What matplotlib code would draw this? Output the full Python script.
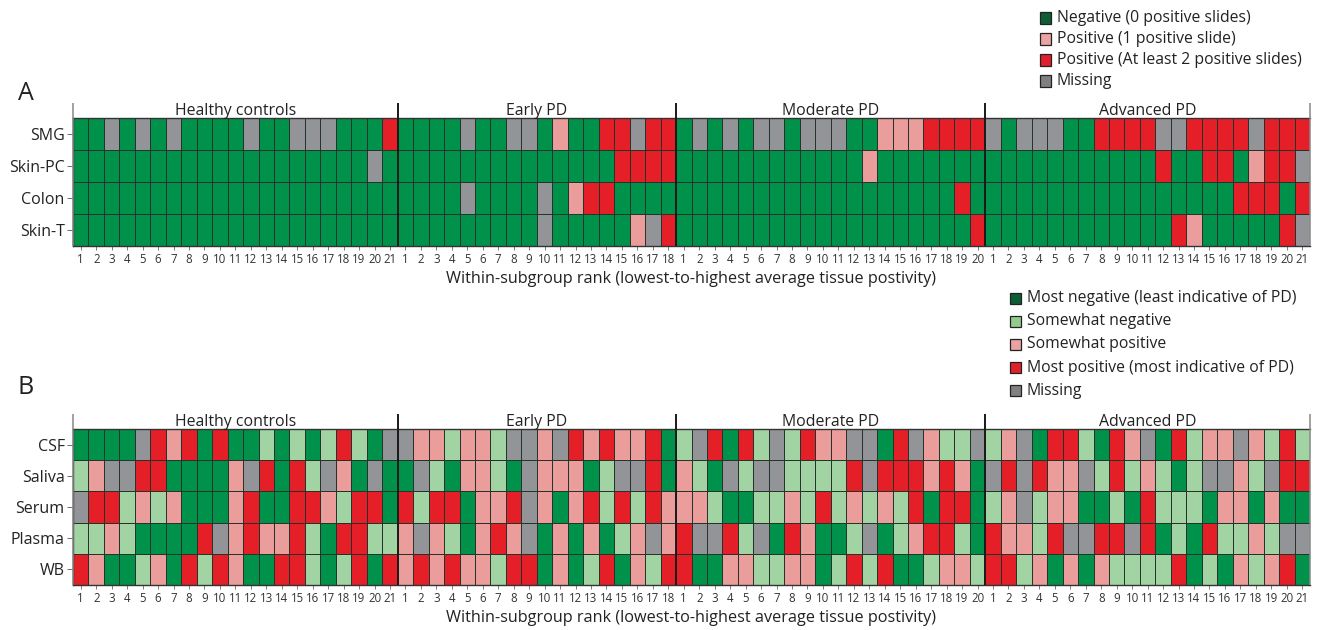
import numpy as np
import matplotlib
matplotlib.use("Agg")
import matplotlib.pyplot as plt
from matplotlib.colors import ListedColormap, BoundaryNorm
from matplotlib.patches import Rectangle

plt.rcParams["font.family"] = ["Open Sans", "DejaVu Sans"]

# ---- data ----
GROUPS = ["Healthy controls", "Early PD", "Moderate PD", "Advanced PD"]
GROUP_SIZES = [21, 18, 20, 21]

# Panel A: N = negative, P = 1 positive slide, R = >=2 positive slides, M = missing
TISSUE_ROWS = ["SMG", "Skin-PC", "Colon", "Skin-T"]
TISSUE_DATA = {
    "SMG": ["NNMNMNMNNNNMNNMMMNNNR", "NNNNMNNMMNPNNRRMRR",
            "NMNMNMMNMMMNNPPPRRRR", "MNMMMNNRRRRMMRRRRMRRR"],
    "Skin-PC": ["NNNNNNNNNNNNNNNNNNNMN", "NNNNNNNNNNNNNNRRRR",
                "NNNNNNNNNNNNPNNNNNNN", "NNNNNNNNNNNRNNRRNPRRM"],
    "Colon": ["NNNNNNNNNNNNNNNNNNNNN", "NNNNMNNNNMNPRRNNNN",
              "NNNNNNNNNNNNNNNNNNRN", "NNNNNNNNNNNNNNNNRRRNR"],
    "Skin-T": ["NNNNNNNNNNNNNNNNNNNNN", "NNNNNNNNNMNNNNNPMR",
               "NNNNNNNNNNNNNNNNNNNR", "NNNNNNNNNNNNRPNNNNNRM"],
}
TISSUE_CODES = {"N": 0, "P": 1, "R": 2, "M": 3}
TISSUE_LABELS = ["Negative (0 positive slides)", "Positive (1 positive slide)",
                 "Positive (At least 2 positive slides)", "Missing"]

# Panel B: D = most negative, L = somewhat negative, P = somewhat positive,
# R = most positive, M = missing
FLUID_ROWS = ["CSF", "Saliva", "Serum", "Plasma", "WB"]
FLUID_DATA = {
    "CSF": ["DDDDMRPRDRDDLDLDLRLDM", "MPPLPPLMMPMRPRPPRD",
            "LMRDRLMLRPPMMDRMPLLM", "LPMDRRLDRPMDRLPPMPLRL"],
    "Saliva": ["LPMMRRDDDDPMRDRLMPDMD", "DMLDPPLDMPPPDLMMRD",
               "PLDMLMMLLLLRMRRRPRPD", "MRMRPPMLRLPLDLMMPLMRR"],
    "Serum": ["MRRLPLPDDDPRDDRRPLRRD", "RLRRDPPRMPDPRLRLRP",
              "PPLDDLLPLRLPLPLRDRRD", "LPMLPPDDLDRLLLDPPDPDD"],
    "Plasma": ["LLPLDDDDRMPRPPRLDRRLL", "PMPLDPRPMDPDPDLPMP",
               "RMMRLMDRPDDLMDLPRRLD", "RPPLRMMRRMRDLDRLLPLMM"],
    "WB": ["RPDDLPDRLRPDDRRLDLRDR", "PRPRPPLRRDPDLRDPLR",
           "RDDPPLLPPDLRLRDDLPPL", "RRLPDPDPLLLLRDLDPLPRD"],
}
FLUID_CODES = {"D": 0, "L": 1, "P": 2, "R": 3, "M": 4}
FLUID_LABELS = ["Most negative (least indicative of PD)", "Somewhat negative",
                "Somewhat positive", "Most positive (most indicative of PD)", "Missing"]

# ---- colours ----
GREEN = "#00924a"
LIGHT_GREEN = "#a2d3a2"
PINK = "#eb9d9c"
RED = "#e41f27"
GREY = "#929497"
TISSUE_COLORS = [GREEN, PINK, RED, GREY]
FLUID_COLORS = [GREEN, LIGHT_GREEN, PINK, RED, GREY]
TISSUE_LEG = ["#0d5e34", "#eaa2a2", "#e0202a", "#808080"]
FLUID_LEG = ["#0d5e34", "#93cb8f", "#eaa2a2", "#e0202a", "#808080"]

W, H = 1322, 630


def build_matrix(rows, data, codes):
    mat = []
    for r in rows:
        line = "".join(data[r])
        mat.append([codes[c] for c in line])
    return np.array(mat)


def px_axes(fig, left, top, right, bottom):
    return fig.add_axes([left / W, 1 - bottom / H, (right - left) / W, (bottom - top) / H])


def draw_panel(fig, box, rows, mat, colors, header_rise):
    ax = px_axes(fig, *box)
    n_rows, n_cols = mat.shape
    cmap = ListedColormap(colors)
    norm = BoundaryNorm(np.arange(len(colors) + 1) - 0.5, len(colors))
    ax.pcolormesh(np.arange(n_cols + 1), np.arange(n_rows + 1), mat,
                  cmap=cmap, norm=norm, edgecolors="#26332b", linewidth=0.6)
    ax.set_xlim(0, n_cols)
    ax.set_ylim(n_rows, 0)

    ax.set_yticks(np.arange(n_rows) + 0.5)
    ax.set_yticklabels(rows, fontsize=11.5, color="#222222")
    labels = []
    for g in GROUP_SIZES:
        labels += [str(i + 1) for i in range(g)]
    ax.set_xticks(np.arange(n_cols) + 0.5)
    ax.set_xticklabels(labels, fontsize=8.3, color="#333333")
    ax.tick_params(axis="x", length=3, width=0.6, color="#666666", pad=2)
    ax.tick_params(axis="y", length=4, width=0.6, color="#555555", pad=2)
    for s in ax.spines.values():
        s.set_color("#333333")
        s.set_linewidth(1.0)
    ax.spines["right"].set_visible(False)

    # group brackets & headers
    bounds = np.concatenate([[0], np.cumsum(GROUP_SIZES)])
    for i, b in enumerate(bounds):
        inner = 0 < i < len(bounds) - 1
        col = "#1a1a1a" if inner else "#888888"
        ax.plot([b, b], [n_rows, -header_rise], color=col, lw=1.4 if inner else 1.1,
                clip_on=False, solid_capstyle="butt", zorder=5)
    for i, name in enumerate(GROUPS):
        xc = (bounds[i] + bounds[i + 1]) / 2
        ax.text(xc, -header_rise * 0.45, name, ha="center", va="center",
                fontsize=11.4, color="#222222", clip_on=False)
    ax.set_xlabel("Within-subgroup rank (lowest-to-highest average tissue postivity)",
                  fontsize=11.7, color="#222222", labelpad=4)
    return ax


def draw_legend(fig, x, y0, step, labels, colors):
    for i, (lab, c) in enumerate(zip(labels, colors)):
        y = y0 + i * step
        fig.patches.append(Rectangle((x / W, 1 - (y + 5.5) / H), 11 / W, 11 / H,
                                     transform=fig.transFigure, facecolor=c,
                                     edgecolor="#222222", linewidth=0.9))
        fig.text((x + 17) / W, 1 - y / H, lab, fontsize=11.3, color="#222222",
                 va="center", ha="left")


fig = plt.figure(figsize=(W / 100, H / 100), dpi=100)

mat_a = build_matrix(TISSUE_ROWS, TISSUE_DATA, TISSUE_CODES)
mat_b = build_matrix(FLUID_ROWS, FLUID_DATA, FLUID_CODES)

draw_panel(fig, (73, 118, 1310, 246), TISSUE_ROWS, mat_a, TISSUE_COLORS, 0.47)
draw_panel(fig, (73, 429, 1310, 585), FLUID_ROWS, mat_b, FLUID_COLORS, 0.47)

fig.text(18 / W, 1 - 93 / H, "A", fontsize=18, color="#222222", va="center")
fig.text(18 / W, 1 - 388 / H, "B", fontsize=18, color="#222222", va="center")

draw_legend(fig, 1040, 18, 21, TISSUE_LABELS, TISSUE_LEG)
draw_legend(fig, 1010, 298, 23.2, FLUID_LABELS, FLUID_LEG)

fig.savefig("out.png", dpi=100)
